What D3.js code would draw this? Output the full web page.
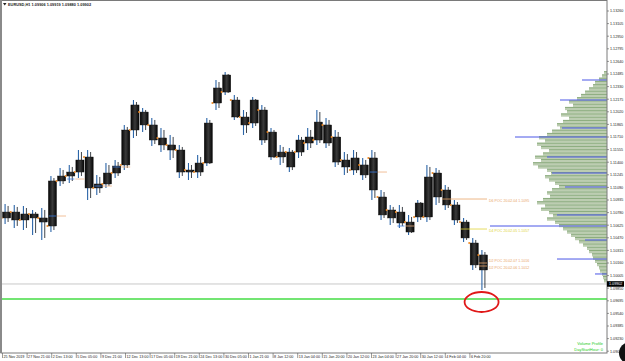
<!DOCTYPE html>
<html>
<head>
<meta charset="utf-8">
<script src="https://cdn.jsdelivr.net/npm/d3@7"></script>
<style>
  body { margin: 0; background: #fff; }
  svg { display: block; }
  text { font-family: "Liberation Sans", "DejaVu Sans", sans-serif; }
</style>
</head>
<body>
<svg id="chart" width="625" height="361"></svg>
<script>
// ---- data ----
const days = ["2019-11-25","2019-11-26","2019-11-27","2019-11-28","2019-11-29",
  "2019-12-02","2019-12-03","2019-12-04","2019-12-05","2019-12-06",
  "2019-12-09","2019-12-10","2019-12-11","2019-12-12","2019-12-13",
  "2019-12-16","2019-12-17","2019-12-18","2019-12-19","2019-12-20",
  "2019-12-23","2019-12-24","2019-12-26","2019-12-27","2019-12-30","2019-12-31",
  "2020-01-02","2020-01-03","2020-01-06","2020-01-07","2020-01-08","2020-01-09","2020-01-10",
  "2020-01-13","2020-01-14","2020-01-15","2020-01-16","2020-01-17",
  "2020-01-20","2020-01-21","2020-01-22","2020-01-23","2020-01-24",
  "2020-01-27","2020-01-28","2020-01-29","2020-01-30","2020-01-31",
  "2020-02-03","2020-02-04","2020-02-05","2020-02-06","2020-02-07"];

const open  = [1.10714,1.10787,1.10689,1.10763,1.10714,1.10615,1.11169,1.11230,1.11279,1.11464,
  1.11083,1.11132,1.11267,1.11366,1.11796,1.12017,1.11858,1.11698,1.11612,1.11550,
  1.11304,1.11279,1.11390,1.12128,1.12263,1.12165,1.11956,1.11882,1.12042,1.11771,
  1.11464,1.11525,1.11525,1.11636,1.11673,1.11858,1.11710,1.11427,1.11304,1.11366,
  1.11452,1.10972,1.10812,1.10787,1.10664,1.10726,1.10726,1.11267,1.11058,1.10874,
  1.10664,1.10406,1.10259];
const high  = [1.10886,1.10874,1.10861,1.10812,1.10837,1.11230,1.11329,1.11366,1.11550,1.11550,
  1.11243,1.11390,1.11427,1.11858,1.12165,1.12067,1.11944,1.11821,1.11735,1.11612,
  1.11390,1.11489,1.11944,1.12411,1.12509,1.12227,1.12042,1.12202,1.12104,1.11821,
  1.11612,1.11575,1.11735,1.11821,1.12042,1.11944,1.11796,1.11525,1.11550,1.11452,
  1.11550,1.11058,1.10874,1.10874,1.10751,1.10935,1.11366,1.11329,1.11120,1.10935,
  1.10714,1.10468,1.10320];
const low   = [1.10640,1.10591,1.10566,1.10505,1.10443,1.10541,1.11107,1.11144,1.11206,1.10935,
  1.10997,1.11083,1.11206,1.11304,1.11698,1.11771,1.11599,1.11525,1.11427,1.11206,
  1.11181,1.11206,1.11353,1.12042,1.12227,1.11919,1.11735,1.11821,1.11612,1.11427,
  1.11366,1.11279,1.11452,1.11550,1.11612,1.11575,1.11341,1.11243,1.11243,1.11181,
  1.10935,1.10689,1.10628,1.10591,1.10505,1.10664,1.10664,1.10874,1.10812,1.10628,
  1.10419,1.10074,1.09828];
const close = [1.10787,1.10689,1.10763,1.10714,1.10664,1.11169,1.11230,1.11279,1.11427,1.11083,
  1.11132,1.11267,1.11353,1.11796,1.12104,1.11858,1.11673,1.11612,1.11550,1.11279,
  1.11279,1.11390,1.11882,1.12313,1.12473,1.11956,1.11858,1.12165,1.11673,1.11464,
  1.11525,1.11341,1.11673,1.11710,1.11894,1.11636,1.11402,1.11341,1.11452,1.11243,
  1.11058,1.10751,1.10714,1.10652,1.10541,1.10898,1.11218,1.10972,1.10874,1.10689,
  1.10468,1.10136,1.10074];

// daily point of control (day index, price)
const pocDay   = [5, 7, 10, 12, 40, 43];
const pocPrice = [1.10738, 1.11193, 1.11107, 1.11341, 1.11279, 1.10615];

// labelled POC lines on the right
const pocLabels = ["D6 POC 20.02.04 1.1095", "D4 POC 20.02.05 1.1057", "D2 POC 20.02.07 1.1016", "D2 POC 20.02.06 1.1012"];
const pocLabelPrice = [1.10947, 1.10578, 1.10160, 1.10123];
const pocLabelFrom  = [48, 50, 52, 52];
const pocLabelColor = ["#e9a56a", "#e0d43a", "#e9a56a", "#e9a56a"];

// volume profile (bins of 0.0004 from the top price down)
const vpTop = 1.12520, vpStep = 0.0004;
const vpVol = [3,5,8,12,14,18,22,26,30,38,34,42,40,46,38,44,50,47,55,60,68,62,70,66,58,64,72,66,74,69,
  60,56,62,58,52,48,55,60,57,64,70,62,66,58,54,60,52,48,44,40,36,32,28,24,20,18,15,14,12,10,8,7,5,4,3];
const vpBluePrice = [1.12411,1.12165,1.11821,1.11710,1.11464,1.11267,1.11095,1.10751,1.10615,1.10443,1.10209,1.10025];
const vpBlueVol   = [25,47,45,92,60,55,42,50,117,22,50,12];

const priceTicks = [1.13260,1.13105,1.12950,1.12795,1.12640,1.12485,1.12330,1.12175,1.12020,1.11865,
  1.11710,1.11555,1.11400,1.11245,1.11090,1.10935,1.10780,1.10625,1.10470,1.10315,
  1.10160,1.10005,1.09850,1.09695,1.09540,1.09385,1.09230,1.09075];
const timeTicks = ["25 Nov 2019","27 Nov 21:00","2 Dec 13:00","5 Dec 05:00","9 Dec 21:00","12 Dec 13:00",
  "17 Dec 05:00","19 Dec 21:00","24 Dec 13:00","30 Dec 05:00","1 Jan 21:00","8 Jan 12:00","13 Jan 04:00",
  "15 Jan 20:00","20 Jan 12:00","23 Jan 04:00","27 Jan 20:00","30 Jan 12:00","4 Feb 04:00","6 Feb 20:00"];

const current = 1.09902;
const greenLevel = 1.09717;
const circleMark = {day: 52.3, price: 1.09680};
const title = "EURUSD,H1  1.09906 1.09919 1.09880 1.09902";

// ---- layout ----
const plotL = 2, plotR = 607, plotT = 1, plotB = 353;
const svg = d3.select("#chart");

const y = d3.scaleLinear().domain([priceTicks[0], priceTicks[priceTicks.length - 1]])
  .range([11, 11 + 27 * 12.6]);
const x = d3.scaleLinear().domain([0, days.length]).range([plotL, 488]);
const dayW = x(1) - x(0);
const xt = d3.scaleLinear().domain([0, timeTicks.length - 1]).range([plotL, plotL + 19 * 24.6]);
const xv = d3.scaleLinear().domain([0, 100]).range([0, 100]);

svg.append("rect").attr("width", 625).attr("height", 361).attr("fill", "#fff");

const defs = svg.append("defs");
defs.append("clipPath").attr("id", "clip").append("rect")
  .attr("x", plotL).attr("y", plotT).attr("width", plotR - plotL).attr("height", plotB - plotT);
const grad = defs.append("linearGradient").attr("id", "boxg");
grad.append("stop").attr("offset", "0%").attr("stop-color", "#050505");
grad.append("stop").attr("offset", "50%").attr("stop-color", "#3a3a3a");
grad.append("stop").attr("offset", "100%").attr("stop-color", "#050505");

const plot = svg.append("g").attr("clip-path", "url(#clip)");

// volume profile
const vp = plot.append("g").attr("class", "volume_profile");
vp.selectAll(".vpbin").data(vpVol).enter().append("rect").attr("class", "vpbin")
  .attr("x", d => plotR - xv(d))
  .attr("y", (d, i) => y(vpTop - i * vpStep))
  .attr("width", d => xv(d))
  .attr("height", (d, i) => y(vpTop - (i + 1) * vpStep) - y(vpTop - i * vpStep))
  .attr("fill", "#bccdb1");
vp.selectAll(".vpline").data(vpVol).enter().append("line").attr("class", "vpline")
  .attr("x1", d => plotR - xv(d)).attr("x2", plotR)
  .attr("y1", (d, i) => y(vpTop - i * vpStep) + 0.5)
  .attr("y2", (d, i) => y(vpTop - i * vpStep) + 0.5)
  .attr("stroke", "#86a878").attr("stroke-width", 0.9);
vp.selectAll(".vpblue").data(vpBlueVol).enter().append("line").attr("class", "vpblue")
  .attr("x1", d => plotR - xv(d)).attr("x2", plotR)
  .attr("y1", (d, i) => y(vpBluePrice[i])).attr("y2", (d, i) => y(vpBluePrice[i]))
  .attr("stroke", "#4a56e6").attr("stroke-width", 1);

// current price line and green level
plot.append("line").attr("x1", plotL).attr("x2", plotR)
  .attr("y1", y(current)).attr("y2", y(current))
  .attr("stroke", "#c8c8c8").attr("stroke-width", 1);
plot.append("line").attr("x1", plotL).attr("x2", plotR)
  .attr("y1", y(greenLevel)).attr("y2", y(greenLevel))
  .attr("stroke", "#44dd44").attr("stroke-width", 1.6);

// daily boxes, with a blue and a dark wick for the hourly bars
const idx = d3.range(days.length);
const candles = plot.append("g").attr("class", "candles");
candles.selectAll(".wick").data(idx).enter().append("line").attr("class", "wick")
  .attr("x1", i => x(i) + dayW / 2 - 1.5).attr("x2", i => x(i) + dayW / 2 - 1.5)
  .attr("y1", i => y(high[i])).attr("y2", i => y(low[i]))
  .attr("stroke", "#2b65a8").attr("stroke-width", 1.1);
candles.selectAll(".wick2").data(idx).enter().append("line").attr("class", "wick2")
  .attr("x1", i => x(i) + dayW / 2 + 1.5).attr("x2", i => x(i) + dayW / 2 + 1.5)
  .attr("y1", i => y(high[i]) + 2).attr("y2", i => y(low[i]) - 2)
  .attr("stroke", "#10161e").attr("stroke-width", 0.8);
candles.selectAll(".body").data(idx).enter().append("rect").attr("class", "body")
  .attr("x", i => x(i) + 0.5)
  .attr("y", i => y(Math.max(open[i], close[i])))
  .attr("width", dayW - 1)
  .attr("height", i => Math.max(1, Math.abs(y(open[i]) - y(close[i]))))
  .attr("fill", "url(#boxg)").attr("stroke", "#111").attr("stroke-width", 0.4);
candles.selectAll(".opendot").data(idx).enter().append("circle").attr("class", "opendot")
  .attr("cx", i => x(i) - 0.5).attr("cy", i => y(open[i])).attr("r", 1)
  .attr("fill", "#f08a24");

// POC marks
const poc = plot.append("g").attr("class", "poc");
poc.selectAll(".pocin").data(pocDay).enter().append("line")
  .attr("x1", d => x(d) + 1).attr("x2", d => x(d + 1) - 1)
  .attr("y1", (d, i) => y(pocPrice[i])).attr("y2", (d, i) => y(pocPrice[i]))
  .attr("stroke", "#3a7be0").attr("stroke-width", 0.8);
poc.selectAll(".pocout").data(pocDay).enter().append("line")
  .attr("x1", d => x(d + 1)).attr("x2", d => x(d + 1) + 9)
  .attr("y1", (d, i) => y(pocPrice[i])).attr("y2", (d, i) => y(pocPrice[i]))
  .attr("stroke", "#eeb080").attr("stroke-width", 0.8);
poc.selectAll(".poclong").data(pocLabels).enter().append("line")
  .attr("x1", (d, i) => x(pocLabelFrom[i])).attr("x2", x(days.length) - 1)
  .attr("y1", (d, i) => y(pocLabelPrice[i])).attr("y2", (d, i) => y(pocLabelPrice[i]))
  .attr("stroke", (d, i) => pocLabelColor[i]).attr("stroke-width", 0.8);
poc.selectAll(".poctext").data(pocLabels).enter().append("text")
  .attr("x", x(days.length) + 1).attr("y", (d, i) => y(pocLabelPrice[i]) + (i === 2 ? -1 : 3))
  .attr("font-size", 3.6).attr("fill", (d, i) => pocLabelColor[i]).text(d => d);

// hand-drawn red circle
plot.append("ellipse")
  .attr("cx", x(circleMark.day)).attr("cy", y(circleMark.price))
  .attr("rx", 17).attr("ry", 10)
  .attr("fill", "none").attr("stroke", "#e01818").attr("stroke-width", 1.8);

// indicator name
plot.append("text").attr("x", 603).attr("y", 344.5).attr("text-anchor", "end")
  .attr("font-size", 4).attr("fill", "#22cc22").text("Volume Profile");
plot.append("text").attr("x", 603).attr("y", 350.5).attr("text-anchor", "end")
  .attr("font-size", 4).attr("fill", "#22cc22").text("DayStartHour: 0");

// frame
svg.append("rect").attr("x", 1).attr("y", 0.5).attr("width", plotR - 1).attr("height", plotB - 0.5)
  .attr("fill", "none").attr("stroke", "#7a7a7a").attr("stroke-width", 1);
svg.append("line").attr("x1", 1).attr("x2", 1).attr("y1", 0).attr("y2", plotB)
  .attr("stroke", "#8a8a8a").attr("stroke-width", 2);

// price axis
const pa = svg.append("g").attr("class", "price_axis");
pa.selectAll(".ptick").data(priceTicks).enter().append("line")
  .attr("x1", plotR).attr("x2", plotR + 2)
  .attr("y1", d => y(d)).attr("y2", d => y(d))
  .attr("stroke", "#555").attr("stroke-width", 0.6);
pa.selectAll(".plabel").data(priceTicks).enter().append("text")
  .attr("x", plotR + 3).attr("y", d => y(d) + 1.4)
  .attr("font-size", 3.7).attr("fill", "#222").text(d => d.toFixed(5));
pa.append("rect").attr("x", plotR).attr("y", y(current) - 2.8).attr("width", 17).attr("height", 5.6)
  .attr("fill", "#000");
pa.append("text").attr("x", plotR + 2).attr("y", y(current) + 1.4)
  .attr("font-size", 3.7).attr("fill", "#fff").text(current.toFixed(5));

// time axis
const ta = svg.append("g").attr("class", "time_axis");
ta.selectAll(".ttick").data(timeTicks).enter().append("line")
  .attr("x1", (d, i) => xt(i) + 0.5).attr("x2", (d, i) => xt(i) + 0.5)
  .attr("y1", plotB).attr("y2", plotB + 5)
  .attr("stroke", "#555").attr("stroke-width", 0.6);
ta.selectAll(".tlabel").data(timeTicks).enter().append("text")
  .attr("x", (d, i) => xt(i) + 1.5).attr("y", plotB + 5)
  .attr("font-size", 3.7).attr("fill", "#222").text(d => d);

// title
svg.append("path").attr("d", "M3,3 L6.5,3 L4.75,5.5 Z").attr("fill", "#222");
svg.append("text").attr("x", 8).attr("y", 6).attr("font-size", 3.9).attr("font-weight", "bold")
  .attr("fill", "#222").text(title);

// round button at the corner
svg.append("circle").attr("cx", 630).attr("cy", 353).attr("r", 11).attr("fill", "#111");
</script>
</body>
</html>
